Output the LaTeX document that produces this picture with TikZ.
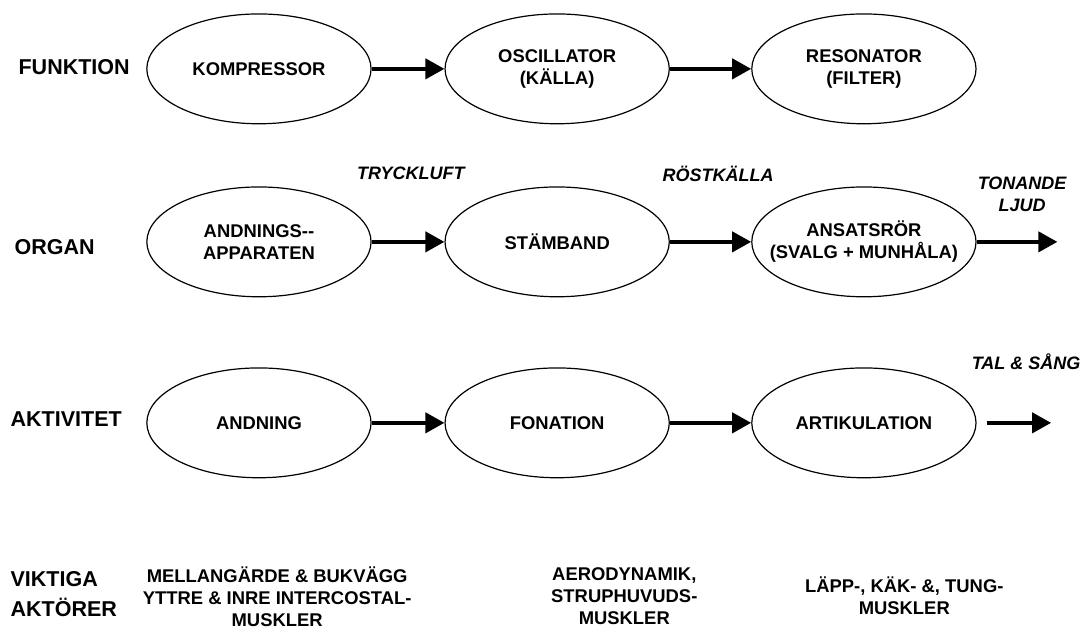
\documentclass[tikz,border=0pt]{standalone}
\usepackage{fontspec}
\setmainfont{Liberation Sans}
\usetikzlibrary{shapes.geometric,arrows.meta}

\begin{document}
\begin{tikzpicture}[
    stage/.style={ellipse, draw, line width=0.6pt, minimum width=3.94cm, minimum height=1.93cm,
        inner sep=0pt, align=center, font=\bfseries\fontsize{9.2}{11}\selectfont},
    flow/.style={-{Triangle[length=9.5pt,width=10pt]}, line width=2pt},
    rowlabel/.style={anchor=base west, inner sep=0pt, align=left, font=\bfseries\fontsize{10.75}{15}\selectfont},
    medium/.style={anchor=base, inner sep=0pt, align=center, font=\bfseries\itshape\fontsize{9}{11}\selectfont},
    actor/.style={anchor=base, inner sep=0pt, align=center, font=\bfseries\fontsize{9.2}{11}\selectfont}]
    % Rows and columns
    \def\rowa{9.84}
    \def\rowb{6.80}
    \def\rowc{3.62}
    \def\cola{4.55}
    \def\colb{9.79}
    \def\colc{15.18}

    \useasboundingbox (0,0) rectangle (19.03,11.05);

    % Row labels (multi-line: base is the last line)
    \node[rowlabel] (funktion) at (0.32,9.74) {FUNKTION};
    \node[rowlabel] (organ) at (0.25,6.57) {ORGAN};
    \node[rowlabel] (aktivitet) at (0.18,3.55) {AKTIVITET};
    \node[rowlabel] (aktorer) at (0.18,0.21) {VIKTIGA\\AKTÖRER};

    % Function
    \node[stage] (komp) at (\cola,\rowa) {KOMPRESSOR};
    \node[stage] (osc) at (\colb,\rowa) {OSCILLATOR\\(KÄLLA)};
    \node[stage] (reso) at (\colc,\rowa) {RESONATOR\\(FILTER)};
    \draw[flow] (komp) -- (osc);
    \draw[flow] (osc) -- (reso);

    % Organ
    \node[stage] (andapp) at (\cola,\rowb) {ANDNINGS-{}-\\APPARATEN};
    \node[stage] (stamb) at (\colb,\rowb) {STÄMBAND};
    \node[stage, inner xsep=-7.9pt] (ansats) at (\colc,\rowb) {ANSATSRÖR\\(SVALG + MUNHÅLA)};
    \coordinate (ljudut) at (18.58,\rowb);
    \draw[flow] (andapp) -- (stamb);
    \draw[flow] (stamb) -- (ansats);
    \draw[flow] (ansats) -- (ljudut);
    \node[medium] (tryck) at (7.22,7.89) {TRYCKLUFT};
    \node[medium] (rost) at (12.62,7.86) {RÖSTKÄLLA};
    \node[medium] (tonande) at (17.96,7.33) {TONANDE\\LJUD};

    % Activity
    \node[stage] (andning) at (\cola,\rowc) {ANDNING};
    \node[stage] (fonation) at (\colb,\rowc) {FONATION};
    \node[stage] (artik) at (\colc,\rowc) {ARTIKULATION};
    \coordinate (talut) at (18.47,\rowc);
    \draw[flow] (andning) -- (fonation);
    \draw[flow] (fonation) -- (artik);
    \draw[flow, shorten <=5pt] (artik) -- (talut);
    \node[medium] (talsang) at (18.03,4.55) {TAL \& SÅNG};

    % Important actors
    \node[actor] (andmusk) at (4.87,0.04) {MELLANGÄRDE \& BUKVÄGG\\YTTRE \& INRE INTERCOSTAL-\\MUSKLER};
    \node[actor] (fonmusk) at (10.97,0.07) {AERODYNAMIK,\\STRUPHUVUDS-\\MUSKLER};
    \node[actor] (artmusk) at (15.89,0.25) {LÄPP-, KÄK- \&, TUNG-\\MUSKLER};
\end{tikzpicture}
\end{document}
